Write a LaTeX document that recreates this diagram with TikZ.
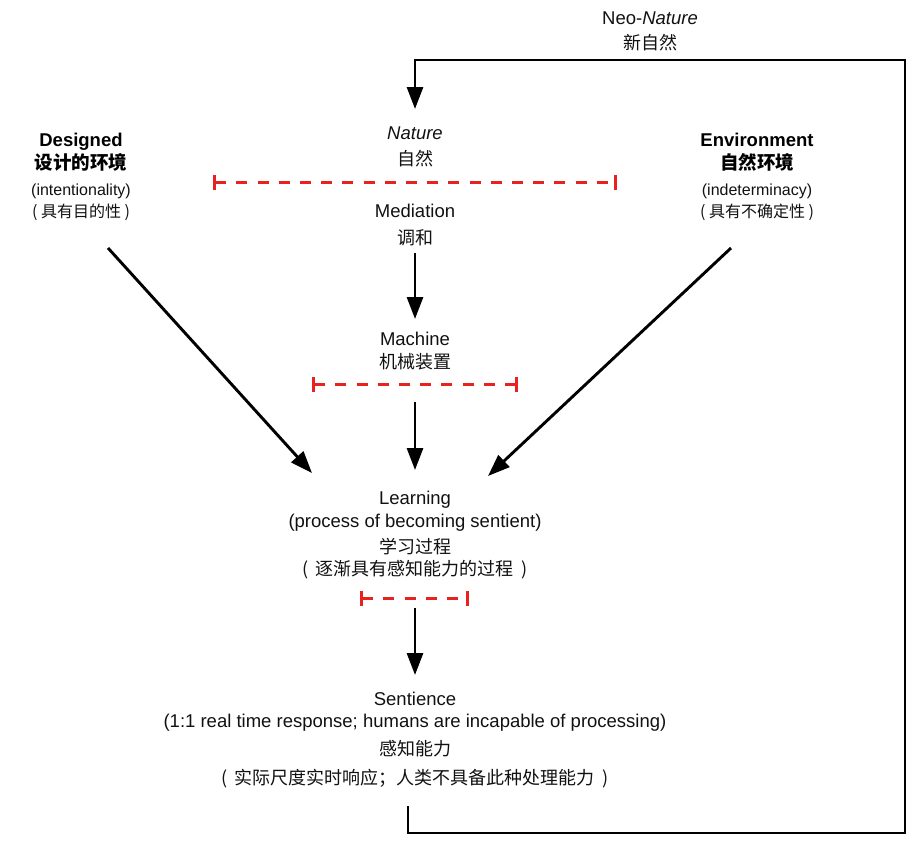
\documentclass[tikz,border=0pt]{standalone}
\usepackage{fontspec}
\setmainfont{Liberation Sans}
\newfontfamily\cjk{Noto Sans CJK SC}
\usetikzlibrary{arrows.meta}
\definecolor{divred}{HTML}{E8221F}
\definecolor{ink}{HTML}{111111}
\begin{document}
\begin{tikzpicture}[x=1pt,y=-1pt,
  lbl/.style={anchor=base,inner sep=0pt,text=ink,font=\fontsize{18.5}{20}\selectfont},
  zh/.style={anchor=base,inner sep=0pt,text=ink,font=\fontsize{18}{20}\selectfont\cjk},
  lbls/.style={anchor=base,inner sep=0pt,text=ink,font=\fontsize{16}{18}\selectfont},
  zhs/.style={anchor=base,inner sep=0pt,text=ink,font=\fontsize{16}{18}\selectfont\cjk},
  lblb/.style={anchor=base,inner sep=0pt,text=black,font=\fontsize{18.5}{20}\selectfont\bfseries},
  zhb/.style={anchor=base,inner sep=0pt,text=black,font=\fontsize{18.5}{20}\selectfont\cjk\bfseries},
  flow/.style={line width=2.9pt,draw=black,-{Triangle[length=22pt,width=16pt]}},
  divider/.style={draw=divred,line width=3pt,dash pattern=on 11pt off 10.2pt,{Bar[width=15pt]}-{Bar[width=15pt]}}
]
\useasboundingbox (0,0) rectangle (912,841);

% Neo-Nature
\node[lbl] (neo) at (650,24) {Neo-\textit{Nature}};
\node[zh] (neozh) at (650,49) {新自然};

% Nature
\node[lbl] (nat) at (415,139) {\textit{Nature}};
\node[zh] (natzh) at (415,165) {自然};
\coordinate (d1l) at (213,182);
\coordinate (d1r) at (617,182);
\draw[divider] (d1l) -- (d1r);

% Mediation
\node[lbl] (med) at (415,217) {Mediation};
\node[zh] (medzh) at (415,244) {调和};

% Machine
\node[lbl] (mach) at (415,345) {Machine};
\node[zh] (machzh) at (415,368) {机械装置};
\coordinate (d2l) at (312,384);
\coordinate (d2r) at (518,384);
\draw[divider] (d2l) -- (d2r);

% Learning
\node[lbl] (learn) at (415,504) {Learning};
\node[lbl] (learn2) at (415,527) {(process of becoming sentient)};
\node[zh] (learnzh) at (415,553) {学习过程};
\node[zh] (learnzh2) at (415,575) {( \,逐渐具有感知能力的过程\, )};
\coordinate (d3l) at (360,598);
\coordinate (d3r) at (469,598);
\draw[divider] (d3l) -- (d3r);

% Sentience
\node[lbl] (sent) at (415,705) {Sentience};
\node[lbl] (sent2) at (415,727) {(1:1 real time response; humans are incapable of processing)};
\node[zh] (sentzh) at (415,755) {感知能力};
\node[zh] (sentzh2) at (415,784) {( \,实际尺度实时响应；人类不具备此种处理能力\, )};

% Designed
\node[lblb] (des) at (81,146) {Designed};
\node[zhb] (deszh) at (81,169) {设计的环境};
\node[lbls] (des2) at (81,195) {(intentionality)};
\node[zhs] (deszh2) at (81,217) {( 具有目的性 )};

% Environment
\node[lblb] (env) at (757,146) {Environment};
\node[zhb] (envzh) at (757,169) {自然环境};
\node[lbls] (env2) at (757,195) {(indeterminacy)};
\node[zhs] (envzh2) at (757,217) {( 具有不确定性 )};

% arrow endpoints
\coordinate (medOut) at (415,253);
\coordinate (machIn) at (415,319);
\coordinate (machOut) at (415,402);
\coordinate (learnIn) at (415,470);
\coordinate (learnOut) at (415,608);
\coordinate (sentIn) at (415,675);
\coordinate (desOut) at (108,248);
\coordinate (learnInL) at (312,473);
\coordinate (envOut) at (731,248);
\coordinate (learnInR) at (488,476);
\coordinate (sentOut) at (408,806);
\coordinate (natIn) at (415,109);

\draw[flow] (medOut) -- (machIn);
\draw[flow] (machOut) -- (learnIn);
\draw[flow] (learnOut) -- (sentIn);
\draw[flow] (desOut) -- (learnInL);
\draw[flow] (envOut) -- (learnInR);
\draw[flow,line join=miter] (sentOut) -- (408,833) -- (905,833) -- (905,60) -- (415,60) -- (natIn);
\end{tikzpicture}
\end{document}
